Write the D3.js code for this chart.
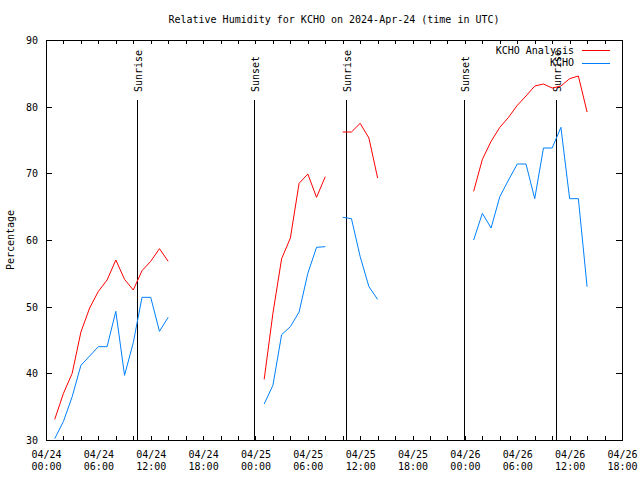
<!DOCTYPE html>
<html>
<head>
<meta charset="utf-8">
<script src="https://cdn.jsdelivr.net/npm/d3@7"></script>
<style>
  html, body { margin: 0; padding: 0; background: #fff; }
  svg { display: block; }
  text { font-family: "DejaVu Sans Mono", "Liberation Mono", monospace; font-size: 10px; fill: #000; }
</style>
</head>
<body>
<svg id="chart" width="640" height="480"></svg>
<script>
// ---------- DATA ----------
const title = "Relative Humidity for KCHO on 2024-Apr-24 (time in UTC)";
const yLabel = "Percentage";
const seriesNames = ["KCHO Analysis", "KCHO"];

// Observation hours, counted from 2024-04-24 00:00 UTC, grouped in segments
const segmentHours = [
  [1,2,3,4,5,6,7,8,9,10,11,12,13,14],
  [25,26,27,28,29,30,31,32],
  [34,35,36,37,38],
  [49,50,51,52,53,54,55,56,57,58,59,60,61,62]
];
const analysisValues = [
  [33.1,37.0,40.0,46.2,49.8,52.3,54.0,57.0,54.1,52.5,55.4,56.8,58.7,56.8],
  [39.1,49.0,57.2,60.3,68.5,69.9,66.4,69.5],
  [76.2,76.2,77.5,75.3,69.3],
  [67.3,72.1,74.8,76.9,78.4,80.2,81.6,83.1,83.4,82.8,83.1,84.2,84.6,79.2]
];
const kchoValues = [
  [30.2,32.8,36.5,41.2,42.6,44.0,44.0,49.3,39.7,44.6,51.4,51.4,46.3,48.4],
  [35.4,38.2,45.8,47.0,49.2,55.0,58.9,59.0],
  [63.4,63.2,57.5,53.0,51.1],
  [60.0,64.0,61.8,66.5,69.0,71.4,71.4,66.2,73.8,73.8,76.9,66.2,66.2,53.0]
];
const sunEvents = [
  { label: "Sunrise", time: "2024-04-24T10:28:00Z" },
  { label: "Sunset",  time: "2024-04-24T23:52:00Z" },
  { label: "Sunrise", time: "2024-04-25T10:23:00Z" },
  { label: "Sunset",  time: "2024-04-25T23:52:00Z" },
  { label: "Sunrise", time: "2024-04-26T10:24:00Z" }
];
const xStart = "2024-04-24T00:00:00Z";
const xEnd = "2024-04-26T18:00:00Z";
const yTicks = [30,40,50,60,70,80,90];

// ---------- LAYOUT ----------
const W = 640, H = 480;
const L = 46, R = 622, T = 40, B = 440;
const colors = ["#ff0000", "#0080ff"];

const svg = d3.select("#chart");
const t0 = new Date(xStart);
const x = d3.scaleUtc().domain([t0, new Date(xEnd)]).range([L, R]);
const y = d3.scaleLinear().domain([30, 90]).range([B, T]);
const hourToDate = h => new Date(t0.getTime() + h * 3600e3);

// Title
svg.append("text").attr("x", (L + R) / 2).attr("y", 23)
  .attr("text-anchor", "middle").text(title);

// Y label
svg.append("text").attr("transform", `translate(14,${(T + B) / 2}) rotate(-90)`)
  .attr("text-anchor", "middle").text(yLabel);

function styleAxis(g) {
  g.attr("font-family", null).attr("font-size", null);
  g.selectAll("line").attr("stroke", "#000").attr("shape-rendering", "crispEdges");
  g.select(".domain").remove();
}

// Bottom axis: small ticks every 2h
svg.append("g").attr("transform", `translate(0,${B})`)
  .call(d3.axisBottom(x).ticks(d3.utcHour.every(2)).tickSize(-4).tickSizeOuter(0).tickFormat(""))
  .call(styleAxis);
// Top axis ticks
svg.append("g").attr("transform", `translate(0,${T})`)
  .call(d3.axisTop(x).ticks(d3.utcHour.every(2)).tickSize(-4).tickSizeOuter(0).tickFormat(""))
  .call(styleAxis);

// Bottom labels every 6h (two lines)
const labelAxis = svg.append("g").attr("transform", `translate(0,${B})`)
  .call(d3.axisBottom(x).ticks(d3.utcHour.every(6)).tickSize(0).tickSizeOuter(0).tickFormat(""))
  .call(styleAxis);
const fmtDay = d3.utcFormat("%m/%d"), fmtTime = d3.utcFormat("%H:%M");
labelAxis.selectAll(".tick").each(function(d) {
  const txt = d3.select(this).select("text").attr("dy", null).attr("y", null).text(null);
  txt.append("tspan").attr("x", 0).attr("y", 18).text(fmtDay(d));
  txt.append("tspan").attr("x", 0).attr("y", 30).text(fmtTime(d));
});

// Left axis
svg.append("g").attr("transform", `translate(${L},0)`)
  .call(d3.axisLeft(y).tickValues(yTicks).tickSize(-6).tickSizeOuter(0).tickPadding(8))
  .call(styleAxis)
  .selectAll("text").attr("dy", "0.35em");
// Right axis ticks
svg.append("g").attr("transform", `translate(${R},0)`)
  .call(d3.axisRight(y).tickValues(yTicks).tickSize(-6).tickSizeOuter(0).tickFormat(""))
  .call(styleAxis);

// Frame
svg.append("rect").attr("x", L + 0.5).attr("y", T + 0.5)
  .attr("width", R - L).attr("height", B - T)
  .attr("fill", "none").attr("stroke", "#000").attr("shape-rendering", "crispEdges");

// Sunrise / sunset lines
const ev = svg.append("g");
sunEvents.forEach(e => {
  const xp = Math.round(x(new Date(e.time))) + 0.5;
  ev.append("line").attr("x1", xp).attr("x2", xp).attr("y1", 100).attr("y2", B)
    .attr("stroke", "#000").attr("shape-rendering", "crispEdges");
  ev.append("text").attr("transform", `translate(${xp + 4},92) rotate(-90)`)
    .attr("text-anchor", "start").text(e.label);
});

// Data lines
const line = d3.line().x(d => x(d[0])).y(d => y(d[1]));
[analysisValues, kchoValues].forEach((series, si) => {
  series.forEach((vals, k) => {
    const pts = vals.map((v, i) => [hourToDate(segmentHours[k][i]), v]);
    svg.append("path").attr("d", line(pts)).attr("fill", "none")
      .attr("stroke", colors[si]).attr("stroke-width", 1);
  });
});

// Legend
const lg = svg.append("g");
seriesNames.forEach((n, i) => {
  const yy = 50 + i * 12.7;
  lg.append("text").attr("x", 574).attr("y", yy).attr("dy", "0.35em")
    .attr("text-anchor", "end").text(n);
  lg.append("line").attr("x1", 582).attr("x2", 610)
    .attr("y1", Math.round(yy) + 0.5).attr("y2", Math.round(yy) + 0.5)
    .attr("stroke", colors[i]).attr("shape-rendering", "crispEdges");
});
</script>
</body>
</html>
